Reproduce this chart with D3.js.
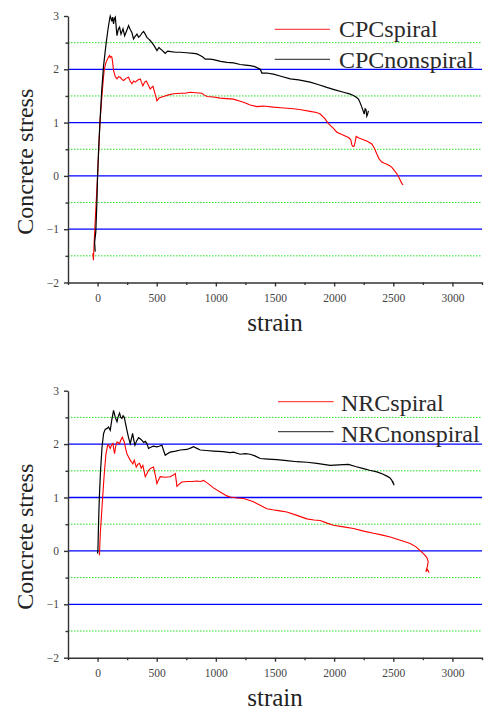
<!DOCTYPE html>
<html>
<head>
<meta charset="utf-8">
<script src="https://cdn.jsdelivr.net/npm/d3@7"></script>
<style>
  body { margin: 0; background: #fff; }
</style>
</head>
<body>
<div id="visuals_container"></div>
<script>
// series: [strain, concrete stress]
const cpc_spiral = [[-40,-1.45],[-35,-1.58],[-30,-1.3],[-20,-0.85],[-10,-0.42],[0,0],[10,0.5],[20,1.0],[35,1.45],[50,1.85],[57,2.0],[70,2.12],[85,2.2],[95,2.24],[102,2.26],[107,2.22],[115,2.24],[121,2.23],[128,2.12],[135,1.98],[150,1.86],[164,1.82],[178,1.86],[192,1.85],[205,1.81],[220,1.79],[240,1.83],[262,1.85],[275,1.78],[290,1.73],[305,1.78],[318,1.76],[340,1.8],[361,1.82],[372,1.75],[383,1.69],[398,1.76],[412,1.78],[430,1.7],[445,1.63],[458,1.66],[468,1.68],[485,1.55],[502,1.41],[520,1.46],[544,1.48],[570,1.5],[600,1.52],[643,1.54],[700,1.55],[740,1.55],[783,1.57],[830,1.56],[882,1.55],[900,1.52],[925,1.49],[980,1.48],[1037,1.46],[1090,1.45],[1149,1.44],[1206,1.4],[1234,1.38],[1290,1.33],[1347,1.3],[1400,1.31],[1487,1.29],[1550,1.28],[1600,1.27],[1656,1.26],[1720,1.24],[1797,1.21],[1850,1.19],[1882,1.16],[1920,1.08],[1952,0.98],[1990,0.9],[2023,0.82],[2070,0.77],[2121,0.72],[2140,0.68],[2150,0.58],[2160,0.55],[2169,0.56],[2178,0.64],[2186,0.74],[2210,0.71],[2248,0.68],[2280,0.65],[2319,0.6],[2340,0.52],[2361,0.41],[2380,0.32],[2403,0.26],[2420,0.24],[2446,0.22],[2470,0.19],[2488,0.16],[2510,0.1],[2530,0.04],[2550,-0.04],[2572,-0.14],[2583,-0.17]];
const cpc_nonspiral = [[-20,-1.42],[-25,-1.25],[-15,-1.05],[-5,-0.45],[0,0],[10,0.55],[20,1.0],[35,1.6],[50,2.05],[73,2.5],[90,2.78],[100,2.92],[107,3.0],[113,2.96],[120,2.9],[128,2.98],[135,2.85],[142,2.95],[150,2.98],[157,2.8],[164,2.63],[175,2.75],[186,2.79],[198,2.66],[215,2.76],[229,2.63],[245,2.72],[262,2.82],[275,2.75],[290,2.69],[304,2.57],[318,2.62],[333,2.66],[347,2.6],[361,2.63],[375,2.68],[389,2.71],[403,2.66],[417,2.6],[431,2.57],[445,2.54],[462,2.49],[479,2.44],[502,2.35],[519,2.41],[532,2.38],[544,2.36],[558,2.33],[572,2.3],[592,2.34],[620,2.33],[660,2.32],[699,2.32],[750,2.31],[811,2.3],[840,2.29],[868,2.26],[890,2.23],[910,2.19],[950,2.19],[980,2.18],[1040,2.15],[1093,2.13],[1150,2.12],[1206,2.09],[1250,2.08],[1290,2.07],[1330,2.05],[1375,2.0],[1389,1.93],[1430,1.93],[1487,1.91],[1550,1.87],[1629,1.82],[1700,1.8],[1797,1.76],[1870,1.71],[1938,1.66],[2000,1.62],[2079,1.57],[2130,1.54],[2164,1.51],[2190,1.47],[2206,1.44],[2220,1.37],[2234,1.29],[2245,1.22],[2254,1.16],[2262,1.26],[2270,1.24],[2276,1.12],[2282,1.15],[2290,1.22]];
const nrc_spiral = [[14,-0.06],[16,-0.08],[18,0.05],[23,0.33],[40,0.9],[55,1.4],[70,1.8],[85,1.98],[93,1.98],[100,1.95],[107,1.92],[118,1.98],[130,2.01],[137,1.9],[144,1.82],[152,1.95],[164,2.04],[175,2.03],[186,2.01],[198,2.08],[209,2.13],[218,2.08],[226,2.04],[237,1.92],[248,1.82],[262,1.76],[276,1.7],[288,1.66],[298,1.63],[310,1.7],[318,1.64],[327,1.57],[340,1.62],[355,1.64],[369,1.55],[383,1.6],[393,1.5],[403,1.39],[418,1.45],[431,1.51],[450,1.55],[473,1.57],[488,1.42],[502,1.26],[515,1.33],[530,1.39],[570,1.38],[614,1.39],[640,1.42],[657,1.45],[664,1.33],[671,1.21],[690,1.25],[713,1.29],[760,1.3],[800,1.3],[840,1.31],[870,1.3],[896,1.32],[940,1.25],[980,1.18],[1040,1.1],[1093,1.03],[1121,1.01],[1178,0.99],[1234,0.98],[1280,0.95],[1318,0.92],[1370,0.86],[1431,0.79],[1480,0.77],[1540,0.75],[1600,0.73],[1680,0.67],[1769,0.6],[1830,0.58],[1882,0.57],[1940,0.52],[1994,0.48],[2080,0.45],[2164,0.42],[2250,0.37],[2333,0.33],[2400,0.3],[2474,0.26],[2560,0.2],[2643,0.14],[2690,0.08],[2724,0.01],[2750,-0.04],[2767,-0.08],[2785,-0.13],[2795,-0.2],[2790,-0.27],[2787,-0.3],[2775,-0.39],[2790,-0.35],[2803,-0.41]];
const nrc_nonspiral = [[0,-0.05],[3,0.02],[8,0.5],[15,1.0],[25,1.5],[38,1.95],[51,2.2],[65,2.28],[79,2.29],[93,2.32],[107,2.26],[120,2.45],[135,2.63],[150,2.5],[164,2.42],[175,2.52],[186,2.58],[196,2.5],[206,2.48],[216,2.53],[226,2.5],[237,2.38],[248,2.26],[262,2.12],[276,2.01],[286,2.1],[296,2.2],[306,2.08],[316,1.98],[330,2.06],[347,2.12],[360,2.1],[375,2.07],[390,2.03],[404,2.05],[417,2.01],[431,1.92],[450,1.94],[470,1.96],[502,1.95],[520,1.96],[544,1.98],[558,1.88],[572,1.79],[590,1.82],[614,1.85],[660,1.87],[700,1.89],[755,1.9],[790,1.93],[811,1.95],[840,1.92],[868,1.89],[920,1.88],[980,1.87],[1060,1.86],[1121,1.84],[1149,1.85],[1206,1.81],[1250,1.82],[1290,1.81],[1330,1.78],[1375,1.73],[1440,1.72],[1516,1.71],[1600,1.69],[1685,1.67],[1770,1.66],[1854,1.64],[1910,1.62],[1966,1.6],[2040,1.61],[2121,1.62],[2180,1.58],[2248,1.54],[2300,1.51],[2361,1.48],[2410,1.44],[2446,1.4],[2470,1.37],[2488,1.32],[2500,1.26],[2495,1.3],[2507,1.23]];

// axis ticks
const x_major = [0, 500, 1000, 1500, 2000, 2500, 3000];
const x_minor = [-250, 250, 750, 1250, 1750, 2250, 2750, 3250];
const y_major = [-2, -1, 0, 1, 2, 3];
const y_minor = [-1.5, -0.5, 0.5, 1.5, 2.5];
const y_grid_major = [-1, 0, 1, 2];

const top_names = ["CPCspiral", "CPCnonspiral"];
const bottom_names = ["NRCspiral", "NRCnonspiral"];

const width = 486, height = 711;
const font = "'Liberation Serif', 'Times New Roman', serif";
const fmt = d3.format("d");

const svg = d3.select("#visuals_container")
              .append("svg")
              .attr("width", width)
              .attr("height", height);
svg.append("rect")
   .attr("width", width)
   .attr("height", height)
   .attr("fill", "#fff");

const x = d3.scaleLinear().domain([-250, 3250]).range([68, 482]);

const draw_panel = (y_top, y_bottom, red_data, black_data, names, leg) => {
    const y = d3.scaleLinear().domain([-2, 3]).range([y_bottom, y_top]);
    const g = svg.append("g");

    // grid lines
    g.selectAll(".gminor").data(y_minor).join("line")
     .attr("x1", x(-250)).attr("x2", x(3250))
     .attr("y1", d => y(d)).attr("y2", d => y(d))
     .attr("stroke", "#22e022")
     .attr("stroke-width", 1)
     .attr("stroke-dasharray", "1.5,1.5");
    g.selectAll(".gmajor").data(y_grid_major).join("line")
     .attr("x1", x(-250)).attr("x2", x(3250))
     .attr("y1", d => y(d)).attr("y2", d => y(d))
     .attr("stroke", "#0000ff")
     .attr("stroke-width", 1.3);

    // curves
    const line = d3.line().x(d => x(d[0])).y(d => y(d[1]));
    g.append("path").datum(red_data)
     .attr("d", line).attr("fill", "none")
     .attr("stroke", "#ff0000").attr("stroke-width", 1.1);
    g.append("path").datum(black_data)
     .attr("d", line).attr("fill", "none")
     .attr("stroke", "#000").attr("stroke-width", 1.2);

    // axes
    g.append("g").attr("transform", `translate(0,${y_bottom})`)
     .call(d3.axisBottom(x).tickValues(x_major).tickFormat(fmt).tickSize(4).tickSizeOuter(0).tickPadding(7));
    g.append("g").attr("transform", `translate(0,${y_bottom})`)
     .call(d3.axisBottom(x).tickValues(x_minor).tickSize(2.5).tickFormat(""))
     .call(s => s.select(".domain").remove());
    g.append("g").attr("transform", `translate(${x(-250)},0)`)
     .call(d3.axisLeft(y).tickValues(y_major).tickFormat(fmt).tickSize(4).tickSizeOuter(0).tickPadding(5));
    g.append("g").attr("transform", `translate(${x(-250)},0)`)
     .call(d3.axisLeft(y).tickValues(y_minor).tickSize(2.5).tickFormat(""))
     .call(s => s.select(".domain").remove());
    g.selectAll(".domain, .tick line").attr("stroke", "#333").attr("stroke-width", 1.4);
    g.selectAll("g[font-family]").attr("font-family", font);
    g.selectAll(".tick text").style("font-family", font).style("font-size", "11.5px").attr("fill", "#444");

    // axis titles
    g.append("text")
     .attr("transform", `translate(33,${(y_top + y_bottom) / 2 + 12.5}) rotate(-90)`)
     .attr("text-anchor", "middle")
     .attr("font-family", font).attr("font-size", "24px").attr("fill", "#222")
     .text("Concrete stress");
    g.append("text")
     .attr("x", (x(-250) + x(3250)) / 2).attr("y", y_bottom + 48.5)
     .attr("text-anchor", "middle")
     .attr("font-family", font).attr("font-size", "25px").attr("fill", "#222")
     .text("strain");

    // legend
    const colors = ["#ff2020", "#222"];
    names.forEach((n, i) => {
        g.append("line")
         .attr("x1", leg.x1).attr("x2", leg.x2)
         .attr("y1", y_top + leg.line_dy + i * 30).attr("y2", y_top + leg.line_dy + i * 30)
         .attr("stroke", colors[i]).attr("stroke-width", 1);
        g.append("text")
         .attr("x", leg.tx).attr("y", y_top + leg.text_dy + i * 31)
         .attr("font-family", font).attr("font-size", "24px").attr("fill", "#2a2a2a")
         .text(n);
    });
};

draw_panel(16, 282.5, cpc_spiral, cpc_nonspiral, top_names,
           {x1: 274.7, x2: 330, tx: 339, line_dy: 13.3, text_dy: 21.3});
draw_panel(390.7, 657.7, nrc_spiral, nrc_nonspiral, bottom_names,
           {x1: 278, x2: 333.7, tx: 341, line_dy: 11, text_dy: 20});
</script>
</body>
</html>
